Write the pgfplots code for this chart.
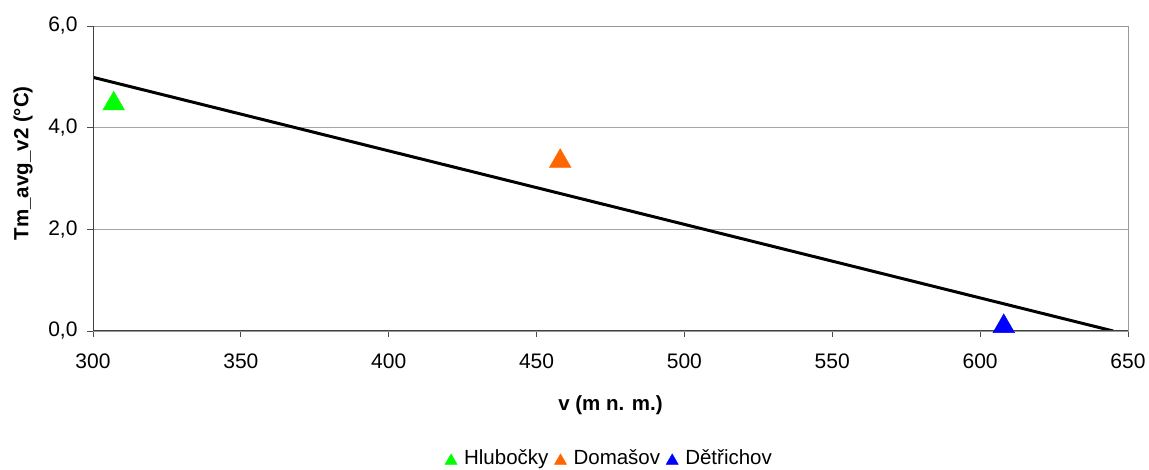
\documentclass[border=0pt]{standalone}
\usepackage{pgfplots}
\pgfplotsset{compat=1.18}
\usepackage{fontspec}
\setmainfont{Liberation Sans}
\definecolor{cgreen}{RGB}{0,255,0}
\definecolor{corange}{RGB}{255,102,0}
\definecolor{cblue}{RGB}{0,0,255}
\begin{document}
\begin{tikzpicture}[x=1pt,y=1pt]
\useasboundingbox (0,0) rectangle (1149,470);
\begin{axis}[
  at={(93pt,139pt)}, anchor=south west,
  scale only axis, width=1035pt, height=305pt,
  xmin=300, xmax=650, ymin=0, ymax=6,
  xtick={300,350,...,650}, ytick={0,2,4,6},
  xtick pos=bottom, ytick pos=left,
  tick align=outside, major tick length=6pt,
  tick style={black!70, line width=0.8pt},
  axis line style={draw=gray!80, line width=0.8pt},
  ymajorgrids, grid style={gray!70, line width=0.8pt},
  /pgf/number format/assume math mode=true,
  yticklabel style={xshift=-6pt, /pgf/number format/.cd, use comma, fixed, fixed zerofill, precision=1},
  xticklabel style={yshift=-13pt, /pgf/number format/.cd, 1000 sep={}},
  tick label style={font=\fontsize{21}{24}\selectfont},
  xlabel={\textbf{v (m n. m.)}},
  ylabel={\textbf{Tm\_avg\_v2 (°C)}},
  label style={font=\fontsize{20.5}{24}\selectfont},
  xlabel style={at={(axis description cs:0.5,-0.243)}, anchor=center},
  ylabel style={at={(axis description cs:-0.0676,0.55)}, anchor=center},
  legend style={at={(axis description cs:0.499,-0.416)}, anchor=center, draw=none,
    legend columns=3, font=\fontsize{20.5}{24}\selectfont,
    /tikz/every even column/.append style={column sep=4pt},
    /tikz/every odd column/.append style={column sep=5pt}},
  legend cell align=left,
  legend image post style={mark size=7pt},
]
\addplot[black, line width=3pt, forget plot] coordinates {(300,4.99) (645,0)};
\addplot[only marks, mark=triangle*, mark size=12.5pt, color=cgreen, mark options={yshift=-3pt}] coordinates {(307,4.53)};
\addplot[only marks, mark=triangle*, mark size=12.5pt, color=corange, mark options={yshift=-3pt}] coordinates {(458,3.40)};
\addplot[only marks, mark=triangle*, mark size=12.5pt, color=cblue, mark options={yshift=-3pt}] coordinates {(608,0.15)};
\legend{Hlubočky, Domašov, Dětřichov}
\draw[black!75, line width=1pt] (rel axis cs:0,1) -- (rel axis cs:0,0) -- (rel axis cs:1,0);
\end{axis}
\end{tikzpicture}
\end{document}
